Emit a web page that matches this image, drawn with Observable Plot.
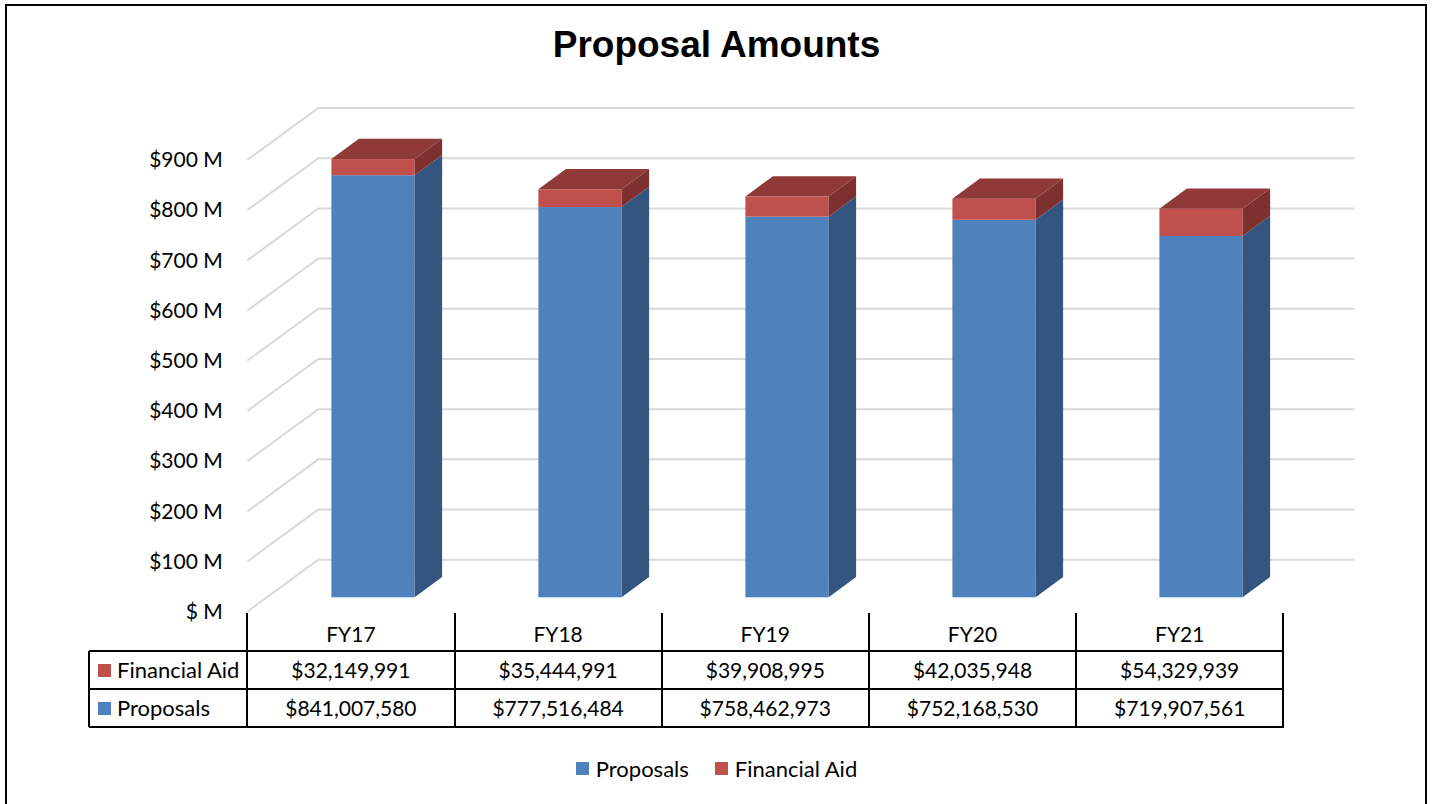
<!DOCTYPE html>
<html>
<head>
<meta charset="utf-8">
<script src="https://cdn.jsdelivr.net/npm/d3@7"></script>
<script src="https://cdn.jsdelivr.net/npm/@observablehq/plot@0.6"></script>
<style>
  html, body { margin: 0; padding: 0; background: #fff; }
  #wrap { position: relative; width: 1433px; height: 804px; overflow: hidden; font-family: Lato, "Open Sans", sans-serif; color: #000; }
  #frame { position: absolute; left: 5px; top: 4px; width: 1422px; height: 900px; border: 2px solid #000; box-sizing: border-box; }
  #title { position: absolute; left: 0; top: 24px; width: 1433px; text-align: center; font: bold 37px "Liberation Sans", Arial, sans-serif; }
  #chart { position: absolute; left: 0; top: 0; }
  .ln { position: absolute; background: #000; }
  .cell { position: absolute; font-size: 21px; line-height: 38px; height: 38px; text-align: center; white-space: nowrap; }
  .key { position: absolute; width: 13px; height: 13px; }
  #legend { position: absolute; left: 0; width: 1433px; top: 755px; display: flex; justify-content: center; align-items: center; font-size: 22px; }
  #legend .item { display: flex; align-items: center; margin: 0 13px; }
  #legend .sw { width: 13px; height: 13px; margin-right: 7px; }
</style>
</head>
<body>
<div id="wrap">
  <div id="frame"></div>
  <div id="title">Proposal Amounts</div>
  <div id="chart"></div>
  <div id="table"></div>
  <div id="legend"></div>
</div>
<script>
// ---- data ----
const categories = ["FY17", "FY18", "FY19", "FY20", "FY21"];
const proposals = [841007580, 777516484, 758462973, 752168530, 719907561];
const financialAid = [32149991, 35444991, 39908995, 42035948, 54329939];
const seriesNames = ["Proposals", "Financial Aid"];
const yTicks = [0, 100e6, 200e6, 300e6, 400e6, 500e6, 600e6, 700e6, 800e6, 900e6];

// ---- style / layout ----
const frontColors = ["#4f81bd", "#c0504d"];
const sideColors = ["#34557f", "#7d302e"];
const topColors = ["#3d6697", "#8f3a38"];
const W = 1433, H = 640;
const M = {left: 247.3, right: 149.7, top: 160, bottom: 28.3};
const DEPTH = {dx: 71, dy: -52};
const BAR = {frac: 0.402, fdx: 21.5, fdy: -14.4, ddx: 27.5, ddy: -20.3};

const long = categories.flatMap((c, i) => [
  {cat: c, series: seriesNames[0], value: proposals[i]},
  {cat: c, series: seriesNames[1], value: financialAid[i]}
]);

function gridRender(index, scales, values, dim) {
  const g = d3.create("svg:g");
  const x0 = dim.marginLeft, x1 = dim.width - dim.marginRight;
  for (const i of index) {
    const y = values.y[i];
    g.append("path")
      .attr("d", `M${x0},${y}L${x0 + DEPTH.dx},${y + DEPTH.dy}H${x1 + DEPTH.dx}`)
      .attr("fill", "none").attr("stroke", "#d9d9d9").attr("stroke-width", 2);
  }
  return g.node();
}

function barsRender(index, scales, values, dim) {
  const g = d3.create("svg:g");
  let bw = scales.x && scales.x.bandwidth;
  if (typeof bw === "function") bw = bw();
  if (!bw) bw = (dim.width - dim.marginLeft - dim.marginRight) / categories.length;
  const w = bw * BAR.frac;
  const X = values.x, Y1 = values.y1, Y2 = values.y2;
  const topOf = new Map();
  for (const i of index) {
    const yt = Math.min(Y1[i], Y2[i]);
    const k = X[i];
    if (!topOf.has(k) || yt < Math.min(Y1[topOf.get(k)], Y2[topOf.get(k)])) topOf.set(k, i);
  }
  const tops = [];
  for (const i of index) {
    const s = seriesNames.indexOf(long[i].series);
    const xl = X[i] + (bw - w) / 2 + BAR.fdx, xr = xl + w;
    const yt = Math.min(Y1[i], Y2[i]) + BAR.fdy, yb = Math.max(Y1[i], Y2[i]) + BAR.fdy;
    g.append("rect").attr("x", xl).attr("y", yt).attr("width", w).attr("height", yb - yt).attr("fill", frontColors[s]);
    g.append("path").attr("d", `M${xr},${yt}L${xr + BAR.ddx},${yt + BAR.ddy}L${xr + BAR.ddx},${yb + BAR.ddy}L${xr},${yb}Z`).attr("fill", sideColors[s]);
    if (topOf.get(X[i]) === i) tops.push([xl, xr, yt, s]);
  }
  for (const [xl, xr, yt, s] of tops) {
    g.append("path").attr("d", `M${xl},${yt}L${xr},${yt}L${xr + BAR.ddx},${yt + BAR.ddy}L${xl + BAR.ddx},${yt + BAR.ddy}Z`).attr("fill", topColors[s]);
  }
  return g.node();
}

const fmtM = d => d === 0 ? "$ M" : `$${d / 1e6} M`;

const chart = Plot.plot({
  width: W, height: H,
  marginLeft: M.left, marginRight: M.right, marginTop: M.top, marginBottom: M.bottom,
  style: {fontFamily: "Lato, 'Open Sans', sans-serif", fontSize: "21px", color: "#000", background: "transparent", overflow: "visible"},
  x: {domain: categories, padding: 0, axis: null},
  y: {domain: [0, 900e6]},
  color: {domain: seriesNames, range: frontColors},
  marks: [
    Plot.ruleY(yTicks, {y: d => d, render: gridRender}),
    Plot.axisY(yTicks, {tickSize: 0, tickPadding: 25, tickFormat: fmtM, label: null, fontSize: 21}),
    Plot.barY(long, Plot.stackY({x: "cat", y: "value", fill: "series", render: barsRender}))
  ]
});
document.getElementById("chart").append(chart);

// ---- data table ----
const tbl = document.getElementById("table");
const bw = (W - M.left - M.right) / categories.length;
const T = {left: 89, headTop: 613, rows: [650.7, 689], bottom: 727.3, lw: 2};
function line(x, y, w, h) {
  const d = document.createElement("div");
  d.className = "ln";
  Object.assign(d.style, {left: x + "px", top: y + "px", width: w + "px", height: h + "px"});
  tbl.append(d);
}
function cell(x, y, w, text) {
  const d = document.createElement("div");
  d.className = "cell";
  d.textContent = text;
  Object.assign(d.style, {left: x + "px", top: y + "px", width: w + "px"});
  tbl.append(d);
  return d;
}
const x0 = M.left, x1 = W - M.right;
for (const y of [...T.rows, T.bottom]) line(T.left, y - T.lw / 2, x1 - T.left + 1, T.lw);
line(T.left - T.lw / 2, T.rows[0], T.lw, T.bottom - T.rows[0]);
for (let k = 0; k <= categories.length; k++) line(x0 + k * bw - T.lw / 2, T.headTop, T.lw, T.bottom - T.headTop);
const fmt = d3.format("$,");
categories.forEach((c, i) => {
  cell(x0 + i * bw, T.headTop + 2, bw, c);
  cell(x0 + i * bw, T.rows[0], bw, fmt(financialAid[i]));
  cell(x0 + i * bw, T.rows[1], bw, fmt(proposals[i]));
});
const rowSeries = [[seriesNames[1], frontColors[1]], [seriesNames[0], frontColors[0]]];
rowSeries.forEach(([name, col], r) => {
  const c = cell(117, T.rows[r], 140, name);
  c.style.textAlign = "left";
  c.style.fontSize = "22px";
  const k = document.createElement("div");
  k.className = "key";
  Object.assign(k.style, {left: "98px", top: (T.rows[r] + 13) + "px", background: col});
  tbl.append(k);
});

// ---- legend ----
const lg = document.getElementById("legend");
seriesNames.forEach((name, i) => {
  const it = document.createElement("div");
  it.className = "item";
  it.innerHTML = `<div class="sw" style="background:${frontColors[i]}"></div><span>${name}</span>`;
  lg.append(it);
});
</script>
</body>
</html>
